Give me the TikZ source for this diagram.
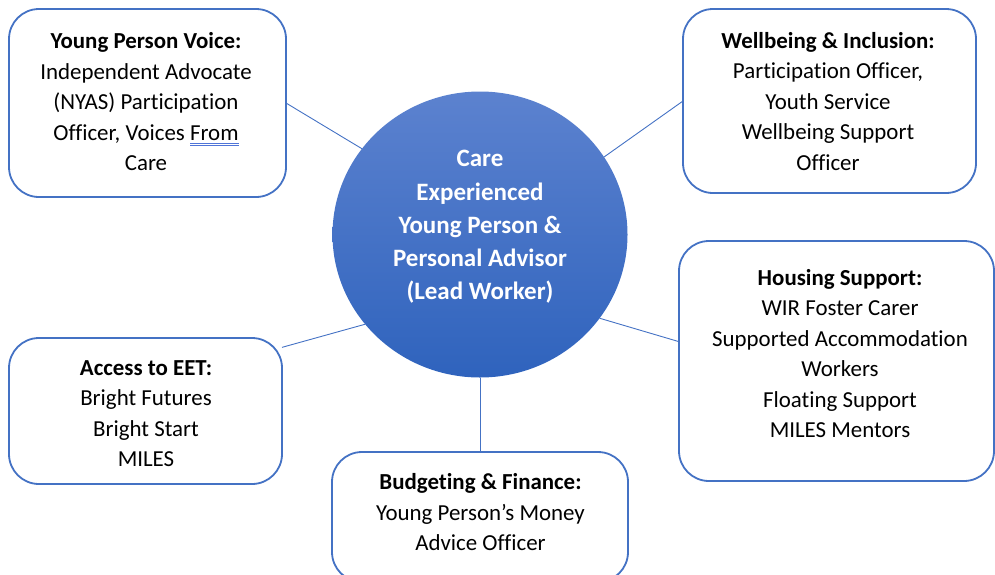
\documentclass[tikz,border=0pt]{standalone}
\usepackage{fontspec}
\setmainfont{Carlito}[Ligatures={NoCommon}]
\usetikzlibrary{shapes.geometric}
\definecolor{edgeblue}{HTML}{4472C4}
\definecolor{ulblue}{HTML}{4F74D8}
\definecolor{topblue}{HTML}{5C82CF}
\definecolor{botblue}{HTML}{2F63BD}
\newcommand\dblunder[1]{\setbox0\hbox{#1}\rlap{\color{ulblue}\rule[-3.4pt]{\wd0}{0.8pt}}\rlap{\color{ulblue}\rule[-5.8pt]{\wd0}{0.8pt}}\box0}
\tikzset{
  infobox/.style={draw=edgeblue, line width=1.8pt, rounded corners=30pt, fill=white,
    inner sep=0pt, outer sep=0pt},
  infotext/.style={align=center, inner sep=0pt, text=black,
    font={\fontsize{22.9}{30.5}\selectfont}},
  hub/.style={ellipse, inner sep=0pt, outer sep=0pt, top color=topblue, bottom color=botblue,
    minimum width=295pt, minimum height=286pt},
  hubtext/.style={align=center, inner sep=0pt, text=white,
    font={\bfseries\fontsize{25}{33.2}\selectfont}},
  link/.style={draw=edgeblue, line width=0.9pt}
}
\begin{document}
\begin{tikzpicture}[x=1pt,y=-1pt]
\useasboundingbox (0,0) rectangle (995,574);
% hub
\node[hub] (hub) at (480,234.5) {};
\node[hubtext] (hubt) at (480,227) {Care\\Experienced\\Young Person \&\\Personal Advisor\\(Lead Worker)};
% boxes
\node[infobox, minimum width=277pt, minimum height=188pt] (voice) at (147.5,103) {};
\node[infobox, minimum width=293pt, minimum height=184pt] (well) at (829.5,101) {};
\node[infobox, minimum width=315pt, minimum height=240pt] (house) at (836.5,361) {};
\node[infobox, minimum width=273pt, minimum height=146pt] (eet) at (145.5,411) {};
\node[infobox, minimum width=296pt, minimum height=130pt] (budget) at (480,517) {};
% texts
\node[infotext] (voicet) at (146,102) {\textbf{Young Person Voice:}\\Independent Advocate\\(NYAS) Participation\\Officer, Voices \dblunder{From}\\Care};
\node[infotext] (wellt) at (828,101.5) {\textbf{Wellbeing \& Inclusion:}\\Participation Officer,\\Youth Service\\Wellbeing Support\\Officer};
\node[infotext] (houset) at (840,353.5) {\textbf{Housing Support:}\\WIR Foster Carer\\Supported Accommodation\\Workers\\Floating Support\\MILES Mentors};
\node[infotext] (eett) at (146,413.5) {\textbf{Access to EET:}\\Bright Futures\\Bright Start\\MILES};
\node[infotext] (budgett) at (480.5,512.5) {\textbf{Budgeting \& Finance:}\\Young Person’s Money\\Advice Officer};
% connectors
\draw[link] (voice.east) -- (hub.144.4);
\draw[link] (well.west) -- (hub.32.7);
\draw[link] (house.173.1) -- (hub.-35.5);
\draw[link] (eet.25.5) -- (hub.218.7);
\draw[link] (budget.north) -- (hub.south);
\end{tikzpicture}
\end{document}
